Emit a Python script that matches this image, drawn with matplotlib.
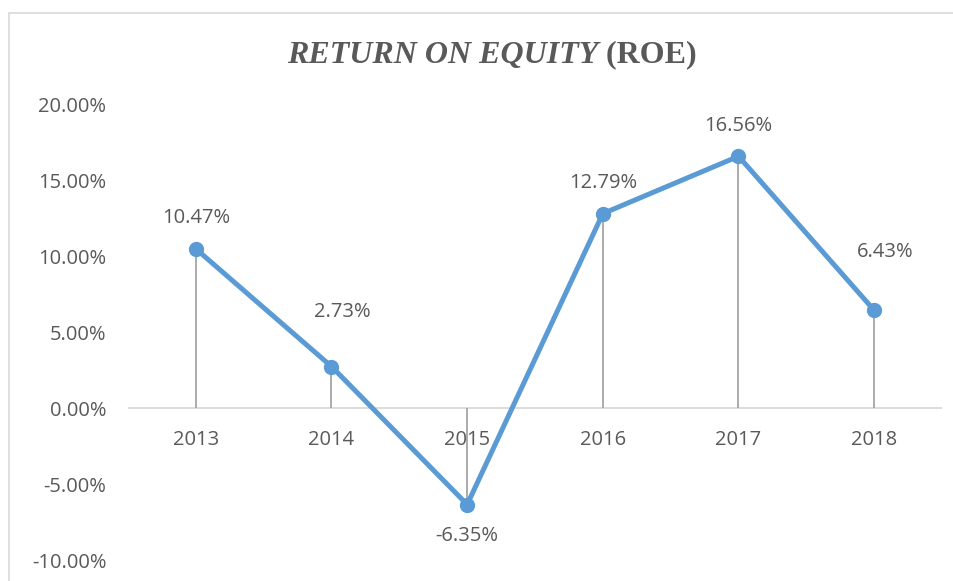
import matplotlib.pyplot as plt
import matplotlib.patches as mpatches

# ROE values
years = ['2013', '2014', '2015', '2016', '2017', '2018']
roe = [10.47, 2.73, -6.35, 12.79, 16.56, 6.43]
labels = ['10.47%', '2.73%', '-6.35%', '12.79%', '16.56%', '6.43%']
y_ticks = [-10, -5, 0, 5, 10, 15, 20]

text_color = '#595959'
line_color = '#5B9BD5'
fs = 14.5

fig = plt.figure(figsize=(9.54, 5.81), dpi=100)
ax = fig.add_axes([128 / 954, 1 - 560 / 581, (942 - 128) / 954, (560 - 104) / 581])

x = list(range(len(years)))

# drop lines from each point to the zero axis
ax.vlines(x, 0, roe, color='#A5A5A5', linewidth=1.3, zorder=2)
ax.axhline(0, color='#D9D9D9', linewidth=1.3, zorder=1)

ax.plot(x, roe, color=line_color, linewidth=3.6, marker='o', markersize=10,
        solid_capstyle='round', zorder=3)

# data labels (offsets in points, label placement as in the original)
offsets = [(0, 22), (8, 39), (0, -23), (0, 22), (0, 22), (8, 42)]
for i, (v, lab) in enumerate(zip(roe, labels)):
    ax.annotate(lab, (i, v), xytext=offsets[i], textcoords='offset points',
                ha='center', va='center', fontsize=fs, color=text_color,
                family='Open Sans')

ax.set_xlim(-0.5, len(years) - 0.5)
ax.set_ylim(-10, 20)
ax.set_yticks(y_ticks)
ax.set_yticklabels([f'{t:.2f}%' for t in y_ticks], fontsize=fs, color=text_color,
                   family='Open Sans')
ax.set_xticks([])
for i, yr in enumerate(years):
    ax.text(i, -2.1, yr, ha='center', va='center', fontsize=fs, color=text_color,
            family='Open Sans')

ax.tick_params(axis='y', length=0, pad=15.5)
for s in ax.spines.values():
    s.set_visible(False)

# title: italic part and upright part
ty = 1 - 55 / 581
fig.text(598 / 954, ty, 'RETURN ON EQUITY', ha='right', va='center',
         fontsize=23, fontweight='bold', fontstyle='italic', color=text_color,
         family='Liberation Serif')
fig.text(598 / 954, ty, ' (ROE)', ha='left', va='center',
         fontsize=23, fontweight='bold', color=text_color, family='Liberation Serif')

# chart frame
fig.patches.append(mpatches.Rectangle((9 / 954, -0.1), 1.1, 1 - 13 / 581 + 0.1,
                                      transform=fig.transFigure, fill=False,
                                      edgecolor='#D9D9D9', linewidth=1.2))

fig.savefig('out.png', dpi=100)
